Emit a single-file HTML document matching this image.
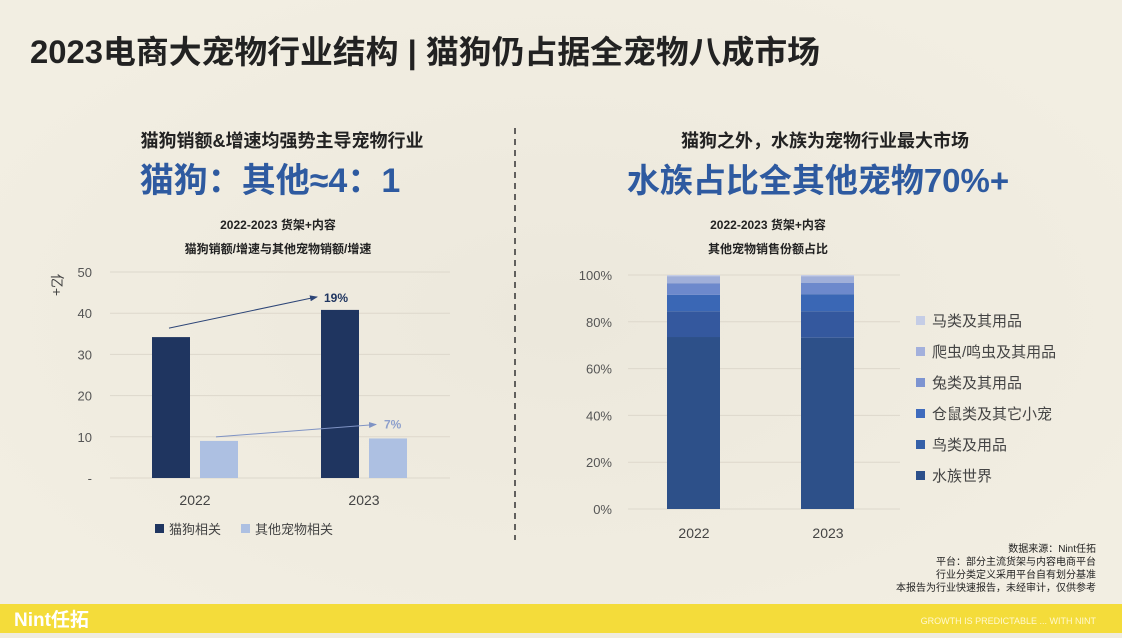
<!DOCTYPE html>
<html><head><meta charset="utf-8"><style>
body{margin:0;width:1122px;height:633px;overflow:hidden;background:#f0ecdf;font-family:"Liberation Sans","Noto Sans CJK SC",sans-serif;}
svg text{font-family:"Liberation Sans","Noto Sans CJK SC",sans-serif;}
</style></head><body>
<svg width="1122" height="633">
<defs><radialGradient id="bg" cx="50%" cy="50%" r="60%"><stop offset="0" stop-color="#ece8dc"/><stop offset="1" stop-color="#f2eee2"/></radialGradient></defs>
<rect width="1122" height="633" fill="url(#bg)"/>
<text x="30" y="63" font-size="32" font-weight="bold" fill="#222" textLength="790" lengthAdjust="spacingAndGlyphs">2023电商大宠物行业结构 | 猫狗仍占据全宠物八成市场</text>
<text x="282" y="147" font-size="18" font-weight="bold" fill="#222" text-anchor="middle">猫狗销额&amp;增速均强势主导宠物行业</text>
<text x="270" y="192" font-size="34" font-weight="bold" fill="#2e5aa0" text-anchor="middle">猫狗：其他≈4：1</text>
<text x="825" y="147" font-size="18" font-weight="bold" fill="#222" text-anchor="middle">猫狗之外，水族为宠物行业最大市场</text>
<text x="818" y="192" font-size="33" font-weight="bold" fill="#2e5aa0" text-anchor="middle">水族占比全其他宠物70%+</text>
<line x1="515" y1="128" x2="515" y2="540" stroke="#333" stroke-width="1.5" stroke-dasharray="6,5"/>
<text x="278" y="229" font-size="12" font-weight="bold" fill="#222" text-anchor="middle">2022-2023 货架+内容</text>
<text x="278" y="253" font-size="12" font-weight="bold" fill="#222" text-anchor="middle">猫狗销额/增速与其他宠物销额/增速</text>
<text x="768" y="229" font-size="12" font-weight="bold" fill="#222" text-anchor="middle">2022-2023 货架+内容</text>
<text x="768" y="253" font-size="12" font-weight="bold" fill="#222" text-anchor="middle">其他宠物销售份额占比</text>
<text transform="translate(52,285) rotate(90)" font-size="14" fill="#444" text-anchor="middle">亿+</text>
<g id="left"></g>
<g id="right"></g>
<text x="1096" y="552" font-size="10" fill="#222" text-anchor="end">数据来源：Nint任拓</text>
<text x="1096" y="565" font-size="10" fill="#222" text-anchor="end">平台：部分主流货架与内容电商平台</text>
<text x="1096" y="578" font-size="10" fill="#222" text-anchor="end">行业分类定义采用平台自有划分基准</text>
<text x="1096" y="591" font-size="10" fill="#222" text-anchor="end">本报告为行业快速报告，未经审计，仅供参考</text>
<rect x="0" y="604" width="1122" height="29" fill="#f4dc3a"/>
<text x="14" y="626" font-size="19" font-weight="bold" fill="#fff">Nint任拓</text>
<text x="1096" y="624" font-size="9" fill="#fff8d0" text-anchor="end">GROWTH IS PREDICTABLE ... WITH NINT</text>
</svg>
<script>
const NS="http://www.w3.org/2000/svg";
function mk(tag,attrs,parent,txt){const e=document.createElementNS(NS,tag);for(const k in attrs)e.setAttribute(k,attrs[k]);if(txt!==undefined)e.textContent=txt;parent.appendChild(e);return e;}
// Left chart data
const years=["2022","2023"];
const catDogSales=[34.2,40.8];
const otherSales=[9.0,9.6];
const growthLabels=["19%","7%"];
const leftTicks=[0,10,20,30,40,50];
const leftTickLabels=["-","10","20","30","40","50"];
// Right chart data
const rightYears=["2022","2023"];
const shareSeries=["水族世界","鸟类及用品","仓鼠类及其它小宠","兔类及其用品","爬虫/鸣虫及其用品","马类及其用品"];
const shareWater=[73.5,73.2];
const shareBird=[11.0,11.3];
const shareHamster=[7.0,7.3];
const shareRabbit=[5.0,4.9];
const shareReptile=[3.0,2.8];
const shareHorse=[0.5,0.5];
const rightTicks=[0,20,40,60,80,100];

const L=document.getElementById('left');
const ly=v=>478-v*4.12;
leftTicks.forEach((t,i)=>{
 const g=mk('line',{x1:110,x2:450,y1:ly(t),y2:ly(t),stroke:"#ddd8cc","stroke-width":1},L);
 
 
 const tx=mk('text',{x:92,y:ly(t)+5,"font-size":13,fill:"#555","text-anchor":"end"},L,leftTickLabels[i]);
 
 
});
const groupX=[183,352];
years.forEach((y,i)=>{
 const x=groupX[i];
 const b1=mk('rect',{x:x-31,y:ly(catDogSales[i]),width:38,height:ly(0)-ly(catDogSales[i]),fill:"#1f3560"},L);
 
 
 const b2=mk('rect',{x:x+17,y:ly(otherSales[i]),width:38,height:ly(0)-ly(otherSales[i]),fill:"#adc0e2"},L);
 
 
 const t=mk('text',{x:x+12,y:505,"font-size":14,fill:"#444","text-anchor":"middle"},L,y);
 
 
});
mk('defs',{},L).innerHTML='<marker id="ah1" markerWidth="8" markerHeight="8" refX="7" refY="4" orient="auto"><path d="M0,1 L8,4 L0,7z" fill="#2d4577"/></marker><marker id="ah2" markerWidth="8" markerHeight="8" refX="7" refY="4" orient="auto"><path d="M0,1 L8,4 L0,7z" fill="#7f93c4"/></marker>';
const a1=mk('line',{x1:169,y1:ly(catDogSales[0])-9,x2:317,y2:ly(catDogSales[1])-13,stroke:"#2d4577","stroke-width":1,"marker-end":"url(#ah1)"},L);


const g1=mk('text',{x:324,y:ly(catDogSales[1])-8,"font-size":12,"font-weight":"bold",fill:"#1f3560"},L,growthLabels[0]);


const a2=mk('line',{x1:216,y1:ly(otherSales[0])-4,x2:376,y2:ly(otherSales[1])-14,stroke:"#7f93c4","stroke-width":1,"marker-end":"url(#ah2)"},L);


const g2=mk('text',{x:384,y:ly(otherSales[1])-10,"font-size":12,"font-weight":"bold",fill:"#8ea0cc"},L,growthLabels[1]);


const lg1=mk('rect',{x:155,y:524,width:9,height:9,fill:"#1f3560"},L);


const lt1=mk('text',{x:169,y:534,"font-size":13,fill:"#444"},L,"猫狗相关");


const lg2=mk('rect',{x:241,y:524,width:9,height:9,fill:"#adc0e2"},L);


const lt2=mk('text',{x:255,y:534,"font-size":13,fill:"#444"},L,"其他宠物相关");



// Right chart
const R=document.getElementById('right');
const ry=v=>509-v*2.34;
rightTicks.forEach(t=>{
 const g=mk('line',{x1:628,x2:900,y1:ry(t),y2:ry(t),stroke:"#ddd8cc","stroke-width":1},R);
 
 
 const tx=mk('text',{x:612,y:ry(t)+5,"font-size":13,fill:"#555","text-anchor":"end"},R,t+"%");
 
 
});
const seriesVals=[shareWater,shareBird,shareHamster,shareRabbit,shareReptile,shareHorse];
const segColors=["#2d5089","#34589e","#3a67b5","#6d89cc","#a0afd9","#c5cde6"];
const legColors=["#2c4f8a","#3560a8","#3f6bbd","#7d94d1","#a3b0dc","#c5cde6"];
const rx=[694,828];
rightYears.forEach((y,i)=>{
 let acc=0;
 seriesVals.forEach((s,j)=>{
  const r=mk('rect',{x:rx[i]-27,y:ry(acc+s[i]),width:53,height:ry(acc)-ry(acc+s[i]),fill:segColors[j]},R);
  
  
  acc+=s[i];
 });
 const t=mk('text',{x:rx[i],y:538,"font-size":14,fill:"#444","text-anchor":"middle"},R,y);
 
 
});
shareSeries.forEach((n,j)=>{
 const yy=480-j*31;
 const s=mk('rect',{x:916,y:yy-9,width:9,height:9,fill:legColors[j]},R);
 
 
 const t=mk('text',{x:932,y:yy+1,"font-size":15,fill:"#444"},R,n);
 
 
});
</script>
</body></html>
